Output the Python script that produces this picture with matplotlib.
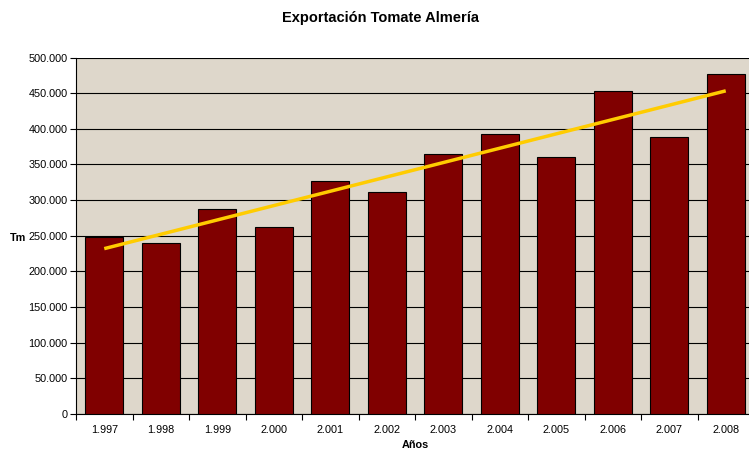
import numpy as np
import matplotlib
matplotlib.use('Agg')
import matplotlib.pyplot as plt
from matplotlib.ticker import FuncFormatter

years = ['1.997', '1.998', '1.999', '2.000', '2.001', '2.002',
         '2.003', '2.004', '2.005', '2.006', '2.007', '2.008']
tm = [248000, 240000, 287000, 262000, 327000, 311000,
      365000, 393000, 360000, 453000, 388000, 477000]

plt.rcParams['font.family'] = ['Liberation Sans', 'DejaVu Sans']

fig = plt.figure(figsize=(7.49, 4.5), dpi=100)
ax = fig.add_axes([76/749, 1-414/450, 678/749, 356.5/450])
ax.set_facecolor('#ded7cb')

x = np.arange(len(years))
ax.bar(x, tm, width=0.67, color='#800000', edgecolor='black', linewidth=0.8, zorder=3)

# linear trend
k, b = np.polyfit(x, tm, 1)
ax.plot(x, k*x + b, color='#ffcc00', linewidth=2.5, zorder=4, solid_capstyle='butt')

ax.set_xlim(-0.5, len(years)-0.5)
ax.set_ylim(0, 500000)
ax.set_yticks(np.arange(0, 500001, 50000))
ax.yaxis.set_major_formatter(FuncFormatter(lambda v, p: '0' if v == 0 else '{:,.0f}'.format(v).replace(',', '.')))
ax.set_xticks(x)
ax.set_xticklabels(years)
ax.set_xticks(np.arange(-0.5, len(years), 1), minor=True)
ax.tick_params(axis='x', which='major', length=0, labelsize=7.8, pad=8)
ax.tick_params(axis='x', which='minor', length=4, width=0.8, direction='out')
ax.tick_params(axis='y', length=4, width=0.8, labelsize=7.8, pad=2)
ax.grid(axis='y', color='black', linewidth=0.8, zorder=1)

for s in ['top', 'right']:
    ax.spines[s].set_visible(False)
ax.spines['left'].set_linewidth(0.8)
ax.spines['bottom'].set_linewidth(0.8)

fig.text(381/749, 1-18/450, 'Exportación Tomate Almería', ha='center', va='center',
         fontsize=10.5, fontweight='bold')
fig.text(18/749, 1-238/450, 'Tm', ha='center', va='center', fontsize=7.8, fontweight='bold')
fig.text(415/749, 1-445/450, 'Años', ha='center', va='center', fontsize=7.8, fontweight='bold')

fig.savefig('out.png', dpi=100)
